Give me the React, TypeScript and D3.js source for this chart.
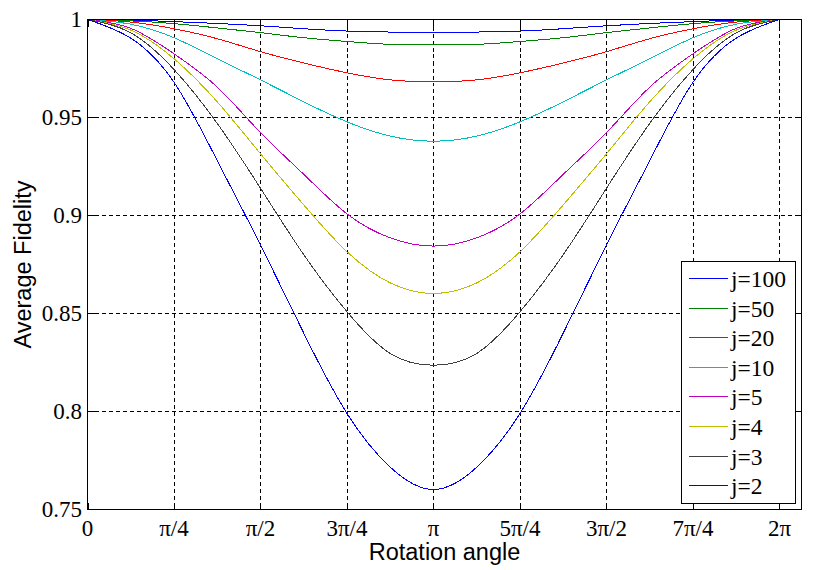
import React from "react";
import * as d3 from "d3";

// ---- data ----
const angleSteps = [0, 1, 2, 3, 4, 5, 6, 7, 8, 9, 10, 11, 12, 13, 14, 15, 16]; // multiples of pi/8
const seriesNames = ["j=100", "j=50", "j=20", "j=10", "j=5", "j=4", "j=3", "j=2"];
const seriesColors = ["#0000ff", "#008000", "#ff0000", "#00bfbf", "#bf00bf", "#bfbf00", "#404040", "#0000ff"];

const j100 = [1, 0.9997, 0.9989, 0.998, 0.9968, 0.9953, 0.9941, 0.9936, 0.9934, 0.9936, 0.9941, 0.9953, 0.9968, 0.998, 0.9989, 0.9997, 1];
const j50 = [1, 0.9993, 0.9979, 0.9957, 0.9933, 0.9907, 0.9888, 0.9873, 0.987, 0.9873, 0.9888, 0.9907, 0.9933, 0.9957, 0.9979, 0.9993, 1];
const j20 = [1, 0.9987, 0.9953, 0.9902, 0.9836, 0.9778, 0.9728, 0.9692, 0.9682, 0.9692, 0.9728, 0.9778, 0.9836, 0.9902, 0.9953, 0.9987, 1];
const j10 = [1, 0.9976, 0.9907, 0.98, 0.9692, 0.958, 0.9478, 0.9405, 0.9379, 0.9405, 0.9478, 0.958, 0.9692, 0.98, 0.9907, 0.9976, 1];
const j5 = [1, 0.9955, 0.9825, 0.9655, 0.9423, 0.921, 0.9008, 0.8886, 0.8844, 0.8886, 0.9008, 0.921, 0.9423, 0.9655, 0.9825, 0.9955, 1];
const j4 = [1, 0.9946, 0.98, 0.958, 0.9315, 0.9054, 0.8815, 0.8656, 0.8602, 0.8656, 0.8815, 0.9054, 0.9315, 0.958, 0.98, 0.9946, 1];
const j3 = [1, 0.9932, 0.9745, 0.947, 0.9139, 0.88, 0.8509, 0.8296, 0.8236, 0.8296, 0.8509, 0.88, 0.9139, 0.947, 0.9745, 0.9932, 1];
const j2 = [1, 0.9905, 0.968, 0.928, 0.885, 0.84, 0.799, 0.7716, 0.7602, 0.7716, 0.799, 0.84, 0.885, 0.928, 0.968, 0.9905, 1];
const seriesValues = [j100, j50, j20, j10, j5, j4, j3, j2];

const xTickSteps = [0, 1, 2, 3, 4, 5, 6, 7, 8]; // multiples of pi/4
const xTickLabels = ["0", "π/4", "π/2", "3π/4", "π", "5π/4", "3π/2", "7π/4", "2π"];
const yTicks = [0.75, 0.8, 0.85, 0.9, 0.95, 1];
const yTickLabels = ["0.75", "0.8", "0.85", "0.9", "0.95", "1"];
const xMax = 6.483;
const yDomain = [0.75, 1];

// ---- layout ----
const W = 829;
const H = 570;
const L = 87.5;
const R = 801.5;
const T = 19.5;
const B = 509.5;
const serif = "'Liberation Serif', 'Times New Roman', serif";
const sans = "'Liberation Sans', Arial, sans-serif";

export default function App() {
  const x = d3.scaleLinear().domain([0, xMax]).range([L, R]);
  const y = d3.scaleLinear().domain(yDomain).range([B, T]);
  const line = d3
    .line<number>()
    .x((_, i) => x((angleSteps[i] * Math.PI) / 8))
    .y((v) => y(v))
    .curve(d3.curveNatural);
  const tickLen = 7;
  const legX0 = 681.5;
  const legX1 = 795.5;
  const legY0 = 261.5;
  const legY1 = 503.5;
  const rowY0 = 278;
  const rowStep = 29.6;

  return (
    <svg
      width={W}
      height={H}
      style={{ position: "absolute", left: 0, top: 0, background: "#fff" }}
    >
      <rect x={0} y={0} width={W} height={H} fill="#fff" />
      {/* grid */}
      <g stroke="#000" strokeWidth={1} strokeDasharray="4,3" shapeRendering="crispEdges">
        {xTickSteps.map((k) => {
          const xx = Math.round(x((k * Math.PI) / 4)) + 0.5;
          return k === 0 ? null : <line key={"gx" + k} x1={xx} x2={xx} y1={T} y2={B} />;
        })}
        {yTicks.map((t) => {
          const yy = Math.round(y(t) - 0.5) + 0.5;
          return t === 0.75 || t === 1 ? null : <line key={"gy" + t} x1={L} x2={R} y1={yy} y2={yy} />;
        })}
      </g>
      {/* curves */}
      <g fill="none" strokeWidth={1} shapeRendering="crispEdges">
        {seriesValues.map((vals, i) => (
          <path key={seriesNames[i]} d={line(vals) || ""} stroke={seriesColors[i]} />
        ))}
      </g>
      {/* ticks */}
      <g stroke="#000" strokeWidth={1} shapeRendering="crispEdges">
        {xTickSteps.map((k) => {
          const xx = Math.round(x((k * Math.PI) / 4)) + 0.5;
          return (
            <g key={"tx" + k}>
              <line x1={xx} x2={xx} y1={B} y2={B - tickLen} />
              <line x1={xx} x2={xx} y1={T} y2={T + tickLen} />
            </g>
          );
        })}
        {yTicks.map((t) => {
          const yy = Math.round(y(t) - 0.5) + 0.5;
          return (
            <g key={"ty" + t}>
              <line x1={L} x2={L + tickLen} y1={yy} y2={yy} />
              <line x1={R} x2={R - tickLen} y1={yy} y2={yy} />
            </g>
          );
        })}
      </g>
      {/* frame */}
      <rect x={L} y={T} width={R - L} height={B - T} fill="none" stroke="#000" strokeWidth={1} shapeRendering="crispEdges" />
      {/* tick labels */}
      <g fontFamily={serif} fontSize={23} fill="#000">
        {xTickSteps.map((k, i) => (
          <text key={"lx" + k} x={x((k * Math.PI) / 4)} y={536} textAnchor="middle">
            {xTickLabels[i]}
          </text>
        ))}
        {yTicks.map((t, i) => (
          <text key={"ly" + t} x={82} y={y(t) + 7.8} textAnchor="end">
            {yTickLabels[i]}
          </text>
        ))}
      </g>
      {/* axis labels */}
      <text x={(L + R) / 2} y={560} textAnchor="middle" fontFamily={sans} fontSize={23.5} fill="#000">
        Rotation angle
      </text>
      <text
        transform={`translate(31,${(T + B) / 2}) rotate(-90)`}
        textAnchor="middle"
        fontFamily={sans}
        fontSize={23.5}
        fill="#000"
      >
        Average Fidelity
      </text>
      {/* legend */}
      <rect x={legX0} y={legY0} width={legX1 - legX0} height={legY1 - legY0} fill="#fff" stroke="#000" strokeWidth={1} shapeRendering="crispEdges" />
      {seriesNames.map((name, i) => {
        const ry = Math.round(rowY0 + i * rowStep);
        return (
          <g key={"leg" + name}>
            <rect x={689} y={ry} width={39} height={1} fill={seriesColors[i]} shapeRendering="crispEdges" />
            <text x={731} y={ry + 8.5} fontFamily={serif} fontSize={23.5} fill="#000">
              {name}
            </text>
          </g>
        );
      })}
    </svg>
  );
}
